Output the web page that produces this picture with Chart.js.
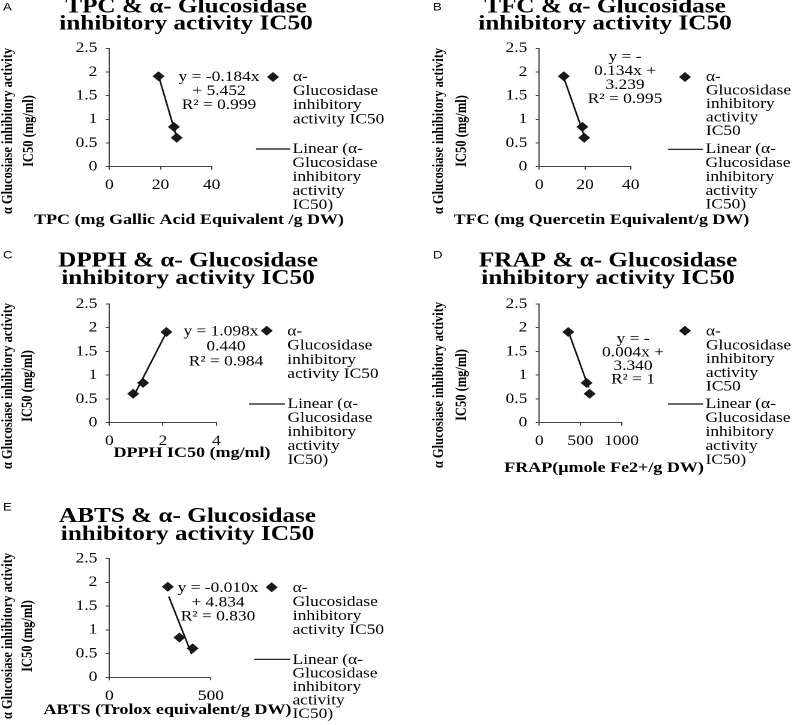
<!DOCTYPE html>
<html>
<head>
<meta charset="utf-8">
<script src="https://cdn.jsdelivr.net/npm/chart.js@4.4.0/dist/chart.umd.min.js"></script>
<style>
  html, body { margin:0; padding:0; background:#fff; }
  #page { position:relative; width:793px; height:725px; overflow:hidden; }
  .panel { position:absolute; }
  .panel .stretch { transform-origin:0 0; }
</style>
</head>
<body>
<div id="page"></div>
<script>
// samples are in the same order in every array below
const IC50 = [1.91, 0.84, 0.61];
const TPC  = [19.2, 25.2, 26.3];
const TFC  = [10.7, 18.8, 19.6];
const DPPH = [2.13, 1.26, 0.89];
const FRAP = [352, 575, 612];
const ABTS = [288, 345, 410];

// trendline ends as drawn (x, y)
const TPC_FIT_X  = [19.2, 26.3],  TPC_FIT_Y  = [1.92, 0.62];
const TFC_FIT_X  = [10.7, 19.6],  TFC_FIT_Y  = [1.88, 0.66];
const DPPH_FIT_X = [0.89, 2.13],  DPPH_FIT_Y = [0.54, 1.90];
const FRAP_FIT_X = [352, 600],    FRAP_FIT_Y = [1.93, 0.74];
const ABTS_FIT_X = [293, 405],    ABTS_FIT_Y = [1.70, 0.49];

const Y_TICKS = { min: 0, max: 2.5, step: 0.5 };

const SX = 1.2;   // the source figure is stretched sideways
const SERIES = 'α- Glucosidase inhibitory activity IC50';
const Y_TITLE = ['α Glucosiase inhibitory activity', 'IC50 (mg/ml)'];

const panels = [
  { letter:'A', ox:0, oy:0, w:398, h:242, letterAt:[3,2],
    title:['TPC & α- Glucosidase','inhibitory activity IC50'], titleX:186, titleY:[12.5,29.5],
    yTitleX:[8,29], yTitleY:131,
    area:{ l:109.4, r:212.5, t:48.3, b:166.7 }, xMin:0, xMax:40, xStep:20,
    xs:TPC, fitX:TPC_FIT_X, fitY:TPC_FIT_Y,
    xTitle:'TPC (mg Gallic Acid Equivalent /g DW)', xTitleX:189, xTitleY:220,
    eq:['y = -0.184x','+ 5.452','R² = 0.999'], eqX:219, eqY:77, eqStep:14,
    mark:[273,77], legX:293, legY:77, legStep:14.2, leg:['α-','Glucosidase','inhibitory','activity IC50'],
    lin:[256,290,149], linY:149, linStep:14, linText:['Linear (α-','Glucosidase','inhibitory','activity','IC50)'] },
  { letter:'B', ox:398, oy:0, w:395, h:242, letterAt:[433,2],
    title:['TFC & α- Glucosidase','inhibitory activity IC50'], titleX:605, titleY:[12.5,29.5],
    yTitleX:[439,462], yTitleY:131,
    area:{ l:539.3, r:631, t:48.3, b:166.7 }, xMin:0, xMax:40, xStep:20,
    xs:TFC, fitX:TFC_FIT_X, fitY:TFC_FIT_Y,
    xTitle:'TFC (mg Quercetin Equivalent/g DW)', xTitleX:601.5, xTitleY:220,
    eq:['y = -','0.134x +','3.239','R² = 0.995'], eqX:625, eqY:57, eqStep:14,
    mark:[685,77], legX:706, legY:77, legStep:13.6, leg:['α-','Glucosidase','inhibitory','activity','IC50'],
    lin:[668,703,149.3], linY:149.3, linStep:13.9, linText:['Linear (α-','Glucosidase','inhibitory','activity','IC50)'] },
  { letter:'C', ox:0, oy:242, w:398, h:242, letterAt:[3,250],
    title:['DPPH & α- Glucosidase','inhibitory activity IC50'], titleX:188, titleY:[266.5,284],
    yTitleX:[8,28], yTitleY:386,
    area:{ l:109.3, r:217.3, t:304, b:422.7 }, xMin:0, xMax:4, xStep:2,
    xs:DPPH, fitX:DPPH_FIT_X, fitY:DPPH_FIT_Y,
    xTitle:'DPPH IC50 (mg/ml)', xTitleX:192, xTitleY:453,
    eq:['y = 1.098x -','0.440','R² = 0.984'], eqX:226, eqY:331.7, eqStep:15,
    mark:[266.7,330.7], legX:287.3, legY:331.7, legStep:14.2, leg:['α-','Glucosidase','inhibitory','activity IC50'],
    lin:[249,285,404], linY:404, linStep:14, linText:['Linear (α-','Glucosidase','inhibitory','activity','IC50)'] },
  { letter:'D', ox:398, oy:242, w:395, h:242, letterAt:[433,250],
    title:['FRAP & α- Glucosidase','inhibitory activity IC50'], titleX:608, titleY:[266.5,284],
    yTitleX:[439,462], yTitleY:385,
    area:{ l:539.3, r:621.7, t:304, b:422.7 }, xMin:0, xMax:1000, xStep:500,
    xs:FRAP, fitX:FRAP_FIT_X, fitY:FRAP_FIT_Y,
    xTitle:'FRAP(µmole Fe2+/g DW)', xTitleX:604, xTitleY:468,
    eq:['y = -','0.004x +','3.340','R² = 1'], eqX:633, eqY:339.3, eqStep:13.4,
    mark:[685,330.7], legX:706, legY:331.7, legStep:13.8, leg:['α-','Glucosidase','inhibitory','activity','IC50'],
    lin:[668,703,404], linY:404, linStep:14, linText:['Linear (α-','Glucosidase','inhibitory','activity','IC50)'] },
  { letter:'E', ox:0, oy:484, w:398, h:241, letterAt:[3,502],
    title:['ABTS & α- Glucosidase','inhibitory activity IC50'], titleX:187.5, titleY:[522,540],
    yTitleX:[8,28], yTitleY:636,
    area:{ l:109.3, r:211.7, t:558.7, b:677.3 }, xMin:0, xMax:500, xStep:500,
    xs:ABTS, fitX:ABTS_FIT_X, fitY:ABTS_FIT_Y,
    xTitle:'ABTS (Trolox equivalent/g DW)', xTitleX:167.5, xTitleY:710,
    eq:['y = -0.010x','+ 4.834','R² = 0.830'], eqX:218, eqY:588.3, eqStep:14.2,
    mark:[271.7,587.3], legX:292.7, legY:588.3, legStep:14, leg:['α-','Glucosidase','inhibitory','activity IC50'],
    lin:[254,290,659.3], linY:660, linStep:13.5, linText:['Linear (α-','Glucosidase','inhibitory','activity','IC50)'] }
];

const SERIF = '"Liberation Serif", "Times New Roman", serif';
const AXIS_COLOR = '#444';
const TICK_LEN = 3;
const MARK_R = 5;

// titles, axis titles, equation and the wrapped legend (Chart.js legend can't wrap)
const panelText = {
  id: 'panelText',
  afterDraw(chart, args, opts) {
    const p = opts.panel, ctx = chart.ctx;
    const lx = X => (X - p.ox) / SX, ly = Y => Y - p.oy;
    ctx.save();
    ctx.fillStyle = '#000';

    ctx.font = '11px "Liberation Sans", Arial, sans-serif';
    ctx.textAlign = 'left'; ctx.textBaseline = 'top';
    ctx.fillText(p.letter, lx(p.letterAt[0]), ly(p.letterAt[1]));

    ctx.font = 'bold 21px ' + SERIF;
    ctx.textAlign = 'center'; ctx.textBaseline = 'alphabetic';
    p.title.forEach((t, i) => ctx.fillText(t, lx(p.titleX), ly(p.titleY[i])));

    ctx.textBaseline = 'middle';
    ctx.font = 'bold 15px ' + SERIF;
    ctx.fillText(p.xTitle, lx(p.xTitleX), ly(p.xTitleY));

    ctx.font = 'bold 12.5px ' + SERIF;
    Y_TITLE.forEach((t, i) => {
      ctx.save();
      ctx.translate(lx(p.yTitleX[i]), ly(p.yTitleY));
      ctx.rotate(-Math.PI / 2);
      ctx.fillText(t, 0, 0);
      ctx.restore();
    });

    ctx.font = '14.5px ' + SERIF;
    p.eq.forEach((t, i) => ctx.fillText(t, lx(p.eqX), ly(p.eqY + i * p.eqStep)));

    // legend: marker entry
    ctx.fillStyle = '#1a1a1a';
    Chart.helpers.drawPoint(ctx, { pointStyle:'rectRot', radius:MARK_R, borderWidth:0 }, lx(p.mark[0]), ly(p.mark[1]));
    ctx.fillStyle = '#000';
    ctx.textAlign = 'left';
    p.leg.forEach((t, i) => ctx.fillText(t, lx(p.legX), ly(p.legY + i * p.legStep)));

    // legend: trendline entry
    ctx.strokeStyle = '#111'; ctx.lineWidth = 1.2;
    ctx.beginPath();
    ctx.moveTo(lx(p.lin[0]), ly(p.lin[2]));
    ctx.lineTo(lx(p.lin[1]), ly(p.lin[2]));
    ctx.stroke();
    p.linText.forEach((t, i) => ctx.fillText(t, lx(p.lin[1] + 2.5), ly(p.linY + i * p.linStep)));
    ctx.restore();
  }
};

const page = document.getElementById('page');

panels.forEach(p => {
  const div = document.createElement('div');
  div.className = 'panel';
  div.style.left = p.ox + 'px'; div.style.top = p.oy + 'px';
  div.style.width = p.w + 'px'; div.style.height = p.h + 'px';
  const wrap = document.createElement('div');
  wrap.className = 'stretch';
  wrap.style.transform = `scaleX(${SX})`;
  const cw = p.w / SX;
  const cv = document.createElement('canvas');
  cv.width = cw; cv.height = p.h;
  wrap.appendChild(cv); div.appendChild(wrap); page.appendChild(div);

  const left = (p.area.l - p.ox) / SX, right = (p.area.r - p.ox) / SX;
  const top = p.area.t - p.oy, bottom = p.area.b - p.oy;
  const Y_W = 30, X_H = 30;

  new Chart(cv, {
    data: {
      datasets: [
        { type:'scatter', label: SERIES,
          data: p.xs.map((x, i) => ({ x, y: IC50[i] })),
          pointStyle:'rectRot', pointRadius:MARK_R, backgroundColor:'#1a1a1a', borderWidth:0, order:1 },
        { type:'line', label: 'Linear (' + SERIES + ')',
          data: p.fitX.map((x, i) => ({ x, y: p.fitY[i] })),
          borderColor:'#111', borderWidth:1.4, pointRadius:0, fill:false, order:0 }
      ]
    },
    options: {
      responsive:false, animation:false, events:[], devicePixelRatio:2,
      layout: { padding: { left: left - Y_W, right: cw - right, top: top, bottom: p.h - bottom - X_H } },
      plugins: { legend:{ display:false }, tooltip:{ enabled:false }, title:{ display:false }, panelText:{ panel:p } },
      scales: {
        x: { type:'linear', min:p.xMin, max:p.xMax,
             afterFit: s => { s.height = X_H; },
             ticks: { stepSize:p.xStep, color:'#000', padding:7, maxRotation:0,
                      font:{ family:'Liberation Serif', size:14.5 }, callback: v => String(v) },
             grid: { drawOnChartArea:false, tickLength:TICK_LEN, color:AXIS_COLOR },
             border: { color:AXIS_COLOR, width:1 } },
        y: { min:Y_TICKS.min, max:Y_TICKS.max,
             afterFit: s => { s.width = Y_W; },
             ticks: { stepSize:Y_TICKS.step, color:'#000', padding:7,
                      font:{ family:'Liberation Serif', size:14.5 }, callback: v => String(v) },
             grid: { drawOnChartArea:false, tickLength:TICK_LEN, color:AXIS_COLOR },
             border: { color:AXIS_COLOR, width:1 } }
      }
    },
    plugins: [panelText]
  });
});
</script>
</body>
</html>
